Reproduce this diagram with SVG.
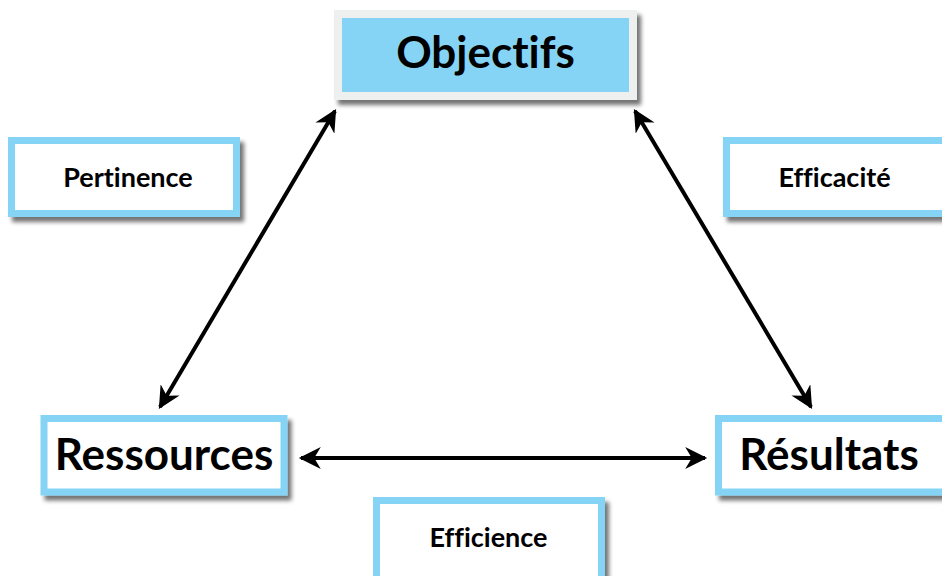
<svg xmlns="http://www.w3.org/2000/svg" width="942" height="576" viewBox="0 0 942 576">
<defs>
<filter id="sh" x="-10%" y="-10%" width="130%" height="140%">
<feDropShadow dx="4" dy="5" stdDeviation="2" flood-color="#000" flood-opacity="0.55"/>
</filter>
<marker id="ah" viewBox="0 0 10 10" refX="9" refY="5" markerWidth="6" markerHeight="5.5" markerUnits="strokeWidth" orient="auto-start-reverse">
<path d="M0,0 L10,5 L0,10 L3,5 Z" fill="#000"/>
</marker>
<style>
.box{fill:#fff;stroke:#85d4f5;stroke-width:7;filter:url(#sh)}
.t{font-family:Lato,"Open Sans",sans-serif;font-weight:bold;fill:#000;text-anchor:middle;font-variant-ligatures:none;font-feature-settings:"liga" 0}
.big{font-size:44px}
.sm{font-size:27px}
.c{stroke:#000;stroke-width:4;fill:none;marker-start:url(#ah);marker-end:url(#ah)}
</style>
</defs>
<rect width="942" height="576" fill="#fff"/>
<g id="connectors">
<line class="c" x1="160" y1="407" x2="335" y2="111"/>
<line class="c" x1="635" y1="111" x2="811" y2="407"/>
<line class="c" x1="301" y1="458" x2="705" y2="458"/>
</g>
<g id="objectifs">
<rect x="338" y="14" width="295" height="82" fill="#85d4f5" stroke="#eef0f0" stroke-width="8" filter="url(#sh)"/>
<text class="t big" x="485.5" y="68">Objectifs</text>
</g>
<g id="pertinence">
<rect class="box" x="11.5" y="140.5" width="225" height="73"/>
<text class="t sm" x="128" y="187">Pertinence</text>
</g>
<g id="efficacite">
<rect class="box" x="726.5" y="140.5" width="225" height="73"/>
<text class="t sm" x="834.5" y="187">Efficacité</text>
</g>
<g id="ressources">
<rect class="box" x="44" y="418.5" width="240" height="73.5"/>
<text class="t big" x="164" y="470">Ressources</text>
</g>
<g id="resultats">
<rect class="box" x="718.5" y="418.5" width="240" height="73.5"/>
<text class="t big" x="829" y="470">Résultats</text>
</g>
<g id="efficience">
<rect class="box" x="376.5" y="500.5" width="225" height="85"/>
<text class="t sm" x="488.5" y="547">Efficience</text>
</g>
</svg>
